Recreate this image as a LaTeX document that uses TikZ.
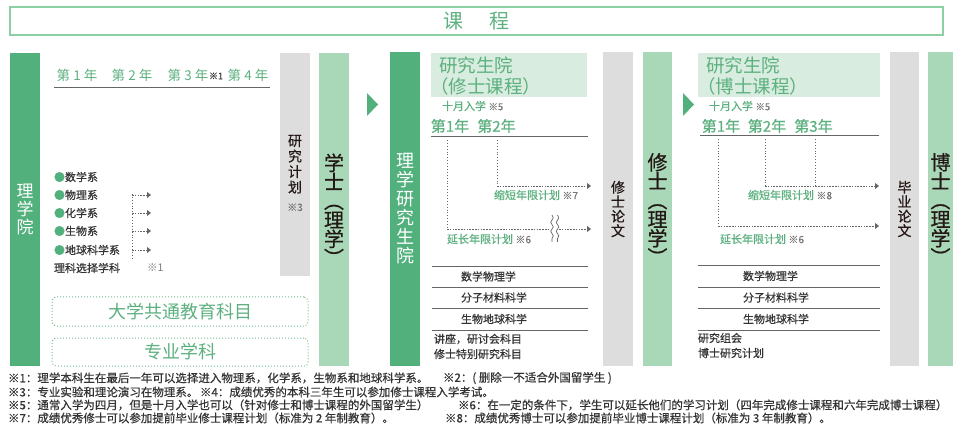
\documentclass[tikz,border=0pt]{standalone}
\usepackage{fontspec}
\setmainfont{Noto Sans CJK SC}
\newfontfamily\notefont[FakeBold=0.6]{Noto Sans CJK SC}
\usetikzlibrary{arrows.meta,decorations.pathmorphing}
\definecolor{dgreen}{HTML}{52B07D}
\definecolor{lgreen}{HTML}{A9D8B9}
\definecolor{colgray}{HTML}{DDDDDD}
\definecolor{boxg}{HTML}{D8EDDF}
\definecolor{tgreen}{HTML}{5DB07F}
\definecolor{titleb}{HTML}{8CCFA5}
\definecolor{dtext}{HTML}{231815}
\definecolor{ftext}{HTML}{333333}
\definecolor{notegray}{HTML}{777777}
\definecolor{linegray}{HTML}{666666}
\newcommand{\fs}[2]{\fontsize{#1}{#2}\selectfont}
\begin{document}
\begin{tikzpicture}[x=1pt,y=-1pt,
  every node/.style={inner sep=0pt, outer sep=0pt},
  colbox/.style={anchor=north west, minimum width=30, align=center},
  vtext/.style={align=center},
  gtext/.style={text=tgreen},
  small/.style={font=\notefont\fs{11}{13}, text=ftext, anchor=west},
  note/.style={text=notegray},
  fnote/.style={font=\notefont\fs{11.5}{12}, text=ftext, anchor=west},
  dotline/.style={draw=linegray, line width=0.9pt, dotted},
  dashline/.style={draw=linegray, line width=0.9pt, dash pattern=on 1.5pt off 1.3pt},
  arrowline/.style={dashline, -{Triangle[width=6pt,length=4pt]}},
  hline/.style={draw=linegray, line width=0.8pt},
  dbox/.style={draw=tgreen!85, dotted, line width=1pt, rounded corners=4pt, anchor=north west, text=tgreen, font=\fs{18}{18}}
]
\useasboundingbox (0,0) rectangle (953,430);

% title
\node[draw=titleb, line width=1.3pt, minimum width=933, minimum height=28, font=\fs{20}{20}, text=tgreen] (title) at (476.5,21) {课\hspace{1.3em}程};

% columns
\node[colbox, fill=dgreen, minimum height=313, text=white, font=\fs{17}{18}] (rxy) at (10,53) {理\\学\\院};
\node[colbox, fill=colgray, minimum height=223] (yjjh) at (280,53) {};
\node[vtext, text=dtext, font=\notefont\fs{14}{15.5}] (yjjhtxt) at (295,173) {研\\究\\计\\划\\[3pt]{\fs{10}{10}\color{notegray}※3}};
\node[colbox, fill=lgreen, minimum height=313, text=dtext, font=\notefont\fs{20}{19}] (xs) at (319,53) {学\\士\\︵\\理\\学\\︶};
\node[colbox, fill=dgreen, minimum height=314, text=white, font=\fs{18}{19}] (ykss) at (390,52) {理\\学\\研\\究\\生\\院};
\node[colbox, fill=colgray, minimum height=314, text=dtext, font=\notefont\fs{14}{14.5}] (xslw) at (603,52) {修\\士\\论\\文};
\node[colbox, fill=lgreen, minimum height=314, minimum width=29, text=dtext, font=\notefont\fs{20}{19}] (ms) at (643,52) {修\\士\\︵\\理\\学\\︶};
\node[colbox, fill=colgray, minimum height=314, minimum width=29, text=dtext, font=\notefont\fs{14}{14.5}] (bylw) at (890,52) {毕\\业\\论\\文};
\node[colbox, fill=lgreen, minimum height=314, minimum width=25, text=dtext, font=\notefont\fs{20}{19}] (bs) at (928,52) {博\\士\\︵\\理\\学\\︶};

% triangles
\fill[dgreen] (367,93) -- (378,104.5) -- (367,116) -- cycle;
\fill[dgreen] (683,93) -- (694,104.5) -- (683,116) -- cycle;

% undergraduate years
\node[gtext, font=\fs{13.5}{14}] (y1) at (77,75) {第 1 年};
\node[gtext, font=\fs{13.5}{14}] (y2) at (132,75) {第 2 年};
\node[gtext, font=\fs{13.5}{14}] (y3) at (188,75) {第 3 年};
\node[note, font=\notefont\fs{9}{9}, text=ftext] (y3n) at (216,76) {※1};
\node[gtext, font=\fs{13.5}{14}] (y4) at (248,75) {第 4 年};
\draw[hline, line width=1pt] (54,88) -- (270,88);

% departments
\node[small] (d1) at (54,177) {\textcolor{dgreen}{●}数学系};
\node[small] (d2) at (54,195) {\textcolor{dgreen}{●}物理系};
\node[small] (d3) at (54,213) {\textcolor{dgreen}{●}化学系};
\node[small] (d4) at (54,231) {\textcolor{dgreen}{●}生物系};
\node[small] (d5) at (54,250) {\textcolor{dgreen}{●}地球科学系};
\node[small] (d6) at (54,268) {理科选择学科};
\node[small, note, font=\fs{10.5}{11}] (d6n) at (147,268) {※1};
\coordinate (bt) at (132,194);
\coordinate (bb) at (132,258);
\draw[dotline] (bt) -- (bb);
\foreach \yy/\nm in {195/a,213/b,231/c,250/d}{
  \coordinate (s\nm) at (132,\yy);
  \coordinate (e\nm) at (151,\yy);
  \draw[arrowline] (s\nm) -- (e\nm);
}

% dotted boxes
\node[dbox, minimum width=256, minimum height=29] (gen) at (52,297) {大学共通教育科目};
\node[dbox, minimum width=256, minimum height=28] (spec) at (52,338) {专业学科};

% master box
\node[anchor=north west, fill=boxg, minimum width=156, minimum height=44] (mbox) at (431,53) {};
\node[gtext, anchor=west, font=\fs{18.5}{18}] (mt1) at (439,65) {研究生院};
\node[gtext, anchor=west, font=\fs{18.5}{18}] (mt2) at (430,86) {（修士课程）};
\node[gtext, anchor=west, font=\notefont\fs{11}{11}] (moct) at (442,106) {十月入学 {\color{notegray}\fs{9.5}{10}※5}};
\node[gtext, font=\notefont\fs{15}{15}] (my1) at (450,126) {第1年};
\node[gtext, font=\notefont\fs{15}{15}] (my2) at (496.5,126) {第2年};
\draw[hline, line width=1pt] (431,137) -- (588,137);
\coordinate (mv1t) at (447,140);
\coordinate (mv1b) at (447,229);
\coordinate (mv2t) at (497,140);
\coordinate (mv2b) at (497,186);
\coordinate (ma1) at (591,186);
\coordinate (ma2) at (591,229);
\draw[dotline] (mv1t) -- (mv1b);
\draw[dotline] (mv2t) -- (mv2b);
\draw[arrowline] (mv2b) -- (ma1);
\draw[arrowline] (mv1b) -- (ma2);
\fill[white] (551,214) rectangle (559,243);
\draw[linegray, line width=0.7pt, decorate, decoration={snake, segment length=9pt, amplitude=1.3pt}] (552,215) -- (552,242);
\draw[linegray, line width=0.7pt, decorate, decoration={snake, segment length=9pt, amplitude=1.3pt}] (557.5,215) -- (557.5,242);
\node[gtext, anchor=west, font=\notefont\fs{11}{11}] (mshort) at (494,195) {缩短年限计划 {\color{notegray}\fs{10}{10}※7}};
\node[gtext, anchor=west, font=\notefont\fs{11}{11}] (mlong) at (447,239) {延长年限计划 {\color{notegray}\fs{10}{10}※6}};
\draw[hline] (432,266) -- (588,266);
\draw[hline] (432,287) -- (588,287);
\draw[hline] (432,308) -- (588,308);
\draw[hline] (432,330) -- (588,330);
\node[small] (mc1) at (461,276.5) {数学物理学};
\node[small] (mc2) at (461,297.5) {分子材料科学};
\node[small] (mc3) at (461,319) {生物地球科学};
\node[small] (mc4) at (434,339) {讲座，研讨会科目};
\node[small] (mc5) at (434,354) {修士特别研究科目};

% doctor box
\node[anchor=north west, fill=boxg, minimum width=182, minimum height=44] (dbx) at (698,53) {};
\node[gtext, anchor=west, font=\fs{18.5}{18}] (dt1) at (706,65) {研究生院};
\node[gtext, anchor=west, font=\fs{18.5}{18}] (dt2) at (697,86) {（博士课程）};
\node[gtext, anchor=west, font=\notefont\fs{11}{11}] (doct) at (709,106) {十月入学 {\color{notegray}\fs{9.5}{10}※5}};
\node[gtext, font=\notefont\fs{15}{15}] (dy1) at (721,126) {第1年};
\node[gtext, font=\notefont\fs{15}{15}] (dy2) at (767,126) {第2年};
\node[gtext, font=\notefont\fs{15}{15}] (dy3) at (813.5,126) {第3年};
\draw[hline, line width=1pt] (700,136) -- (879,136);
\coordinate (dv1t) at (718,139);
\coordinate (dv1b) at (718,226);
\coordinate (dv2t) at (765,139);
\coordinate (dv2b) at (765,186);
\coordinate (dv3t) at (815,139);
\coordinate (dv3b) at (815,186);
\coordinate (da1) at (879,186);
\coordinate (da2) at (879,226);
\draw[dotline] (dv1t) -- (dv1b);
\draw[dotline] (dv2t) -- (dv2b);
\draw[dotline] (dv3t) -- (dv3b);
\draw[arrowline] (dv2b) -- (da1);
\draw[arrowline] (dv1b) -- (da2);
\node[gtext, anchor=west, font=\notefont\fs{11}{11}] (dshort) at (748,195) {缩短年限计划 {\color{notegray}\fs{10}{10}※8}};
\node[gtext, anchor=west, font=\notefont\fs{11}{11}] (dlong) at (720,239) {延长年限计划 {\color{notegray}\fs{10}{10}※6}};
\draw[hline] (698,265) -- (880,265);
\draw[hline] (698,287) -- (880,287);
\draw[hline] (698,308) -- (880,308);
\draw[hline] (698,330) -- (880,330);
\node[small] (dc1) at (743,276) {数学物理学};
\node[small] (dc2) at (743,297.5) {分子材料科学};
\node[small] (dc3) at (743,319) {生物地球科学};
\node[small] (dc4) at (698,338) {研究组会};
\node[small] (dc5) at (698,353) {博士研究计划};

% footnotes
\node[fnote] (f1a) at (8,378) {※1：理学本科生在最后一年可以选择进入物理系，化学系，生物系和地球科学系。};
\node[fnote] (f1b) at (443,378) {※2：( 删除一不适合外国留学生 )};
\node[fnote] (f2a) at (8,392) {※3：专业实验和理论演习在物理系。};
\node[fnote] (f2b) at (200,392) {※4：成绩优秀的本科三年生可以参加修士课程入学考试。};
\node[fnote] (f3a) at (8,405) {※5：通常入学为四月，但是十月入学也可以（针对修士和博士课程的外国留学生）};
\node[fnote] (f3b) at (458,405) {※6：在一定的条件下，学生可以延长他们的学习计划（四年完成修士课程和六年完成博士课程）};
\node[fnote] (f4a) at (8,418) {※7：成绩优秀修士可以参加提前毕业修士课程计划（标准为 2 年制教育）。};
\node[fnote] (f4b) at (445,418) {※8：成绩优秀博士可以参加提前毕业博士课程计划（标准为 3 年制教育）。};
\end{tikzpicture}
\end{document}
